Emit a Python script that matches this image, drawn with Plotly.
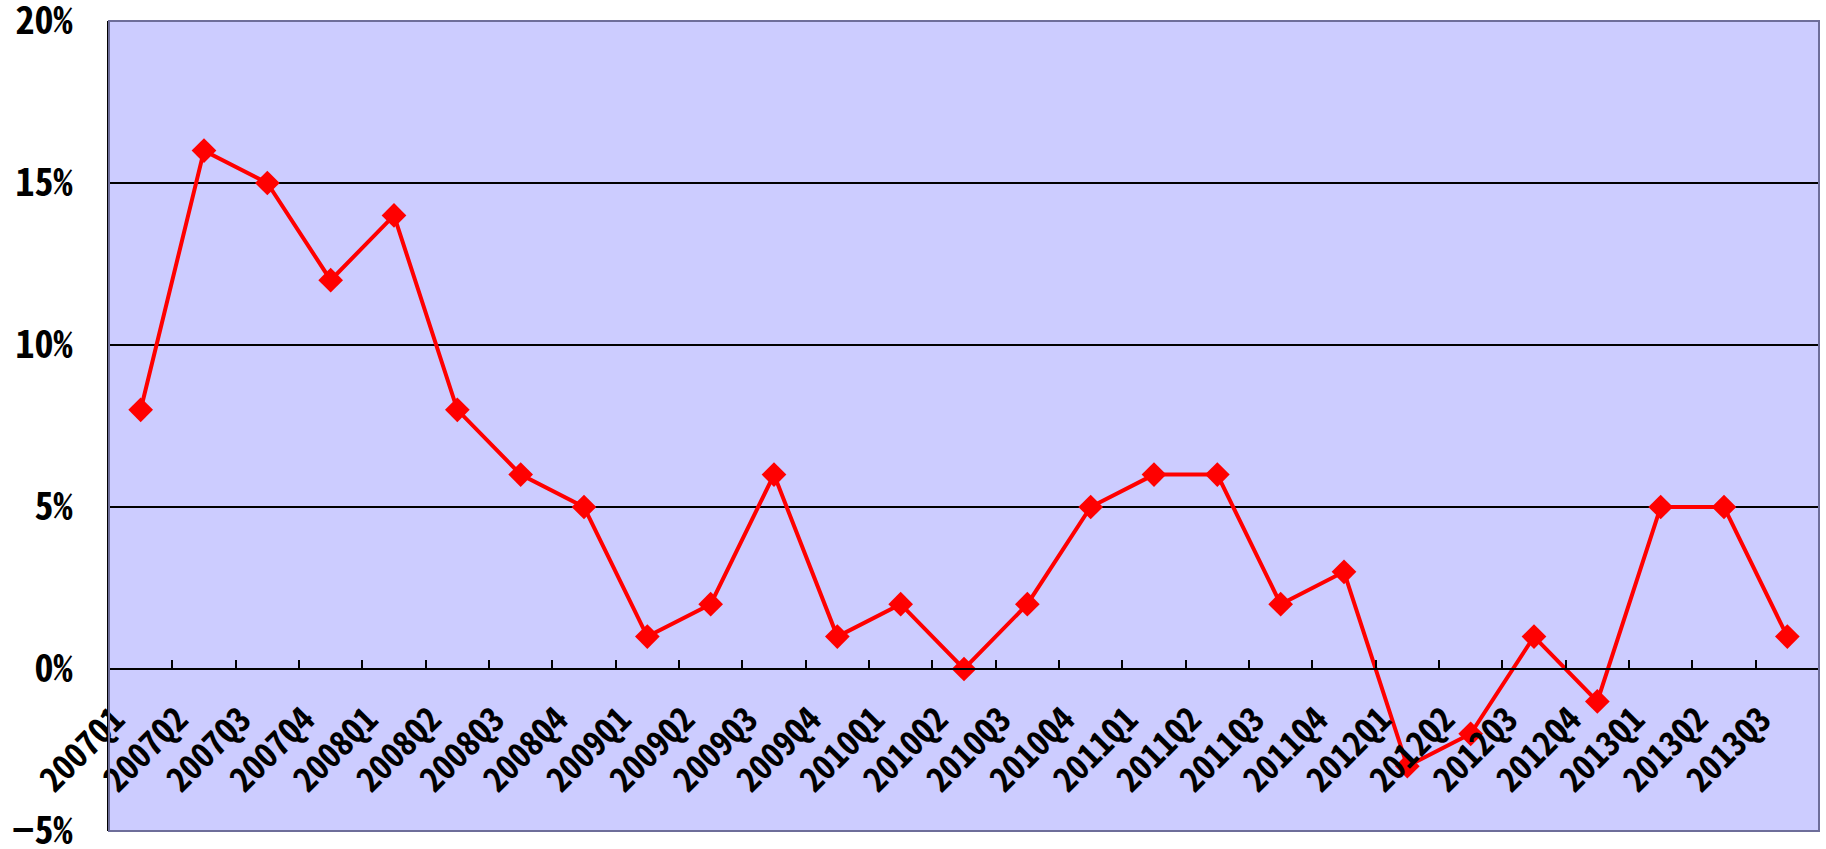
import plotly.graph_objects as go

quarters = ["2007Q1", "2007Q2", "2007Q3", "2007Q4",
            "2008Q1", "2008Q2", "2008Q3", "2008Q4",
            "2009Q1", "2009Q2", "2009Q3", "2009Q4",
            "2010Q1", "2010Q2", "2010Q3", "2010Q4",
            "2011Q1", "2011Q2", "2011Q3", "2011Q4",
            "2012Q1", "2012Q2", "2012Q3", "2012Q4",
            "2013Q1", "2013Q2", "2013Q3"]
growth = [8, 16, 15, 12,
          14, 8, 6, 5,
          1, 2, 6, 1,
          2, 0, 2, 5,
          6, 6, 2, 3,
          -3, -2, 1, -1,
          5, 5, 1]
y_ticks = [-5, 0, 5, 10, 15, 20]
y_labels = ["\u22125%", "0%", "5%", "10%", "15%", "20%"]

FONT = "Noto Sans Mono CJK JP, Roboto, sans-serif"

fig = go.Figure()
fig.add_trace(go.Scatter(
    x=quarters, y=growth, mode="lines+markers",
    line=dict(color="#FF0000", width=4),
    marker=dict(symbol="diamond", size=19, color="#FF0000"),
    showlegend=False, cliponaxis=False, hoverinfo="skip",
))

fig.update_layout(
    template="none",
    width=1826, height=849,
    margin=dict(l=109, r=7, t=21, b=18, pad=0),
    paper_bgcolor="white",
    plot_bgcolor="#CCCCFF",
    font=dict(family=FONT, color="black"),
    xaxis=dict(
        type="category", range=[-0.5, len(quarters) - 0.5],
        anchor="free", position=0.2, automargin=False,
        tickson="boundaries", ticks="inside", ticklen=8, tickwidth=2, tickcolor="black",
        showline=True, linecolor="black", linewidth=2,
        showgrid=False, zeroline=False, tickangle=-45,
        ticklabelstandoff=16, ticklabelshift=-26, ticklabeloverflow="allow",
        tickfont=dict(family=FONT, size=34, weight="bold", color="black"),
    ),
    yaxis=dict(
        range=[-5, 20], tickmode="array", tickvals=y_ticks, ticktext=y_labels,
        automargin=False, ticklabeloverflow="allow",
        ticks="outside", ticklen=27, tickwidth=1, tickcolor="rgba(0,0,0,0)",
        showline=True, linecolor="black", linewidth=2,
        showgrid=True, gridcolor="black", gridwidth=2,
        zeroline=False,
        tickfont=dict(family=FONT, size=38, weight="bold", color="black"),
    ),
    yaxis2=dict(
        range=[-5, 20], tickmode="array", tickvals=y_ticks, overlaying="y",
        anchor="x", side="left", automargin=False,
        ticks="inside", ticklen=10, tickwidth=2, tickcolor="black",
        showticklabels=False, showgrid=False, showline=False, zeroline=False,
    ),
    shapes=[dict(type="rect", xref="paper", yref="paper", x0=0, x1=1, y0=0, y1=1,
                 line=dict(color="#6E6E9A", width=2), layer="above")],
)

fig.write_html(
    "out.html",
    config={"displayModeBar": False},
    post_script="document.body.style.margin='0';document.body.style.overflow='hidden';",
)
